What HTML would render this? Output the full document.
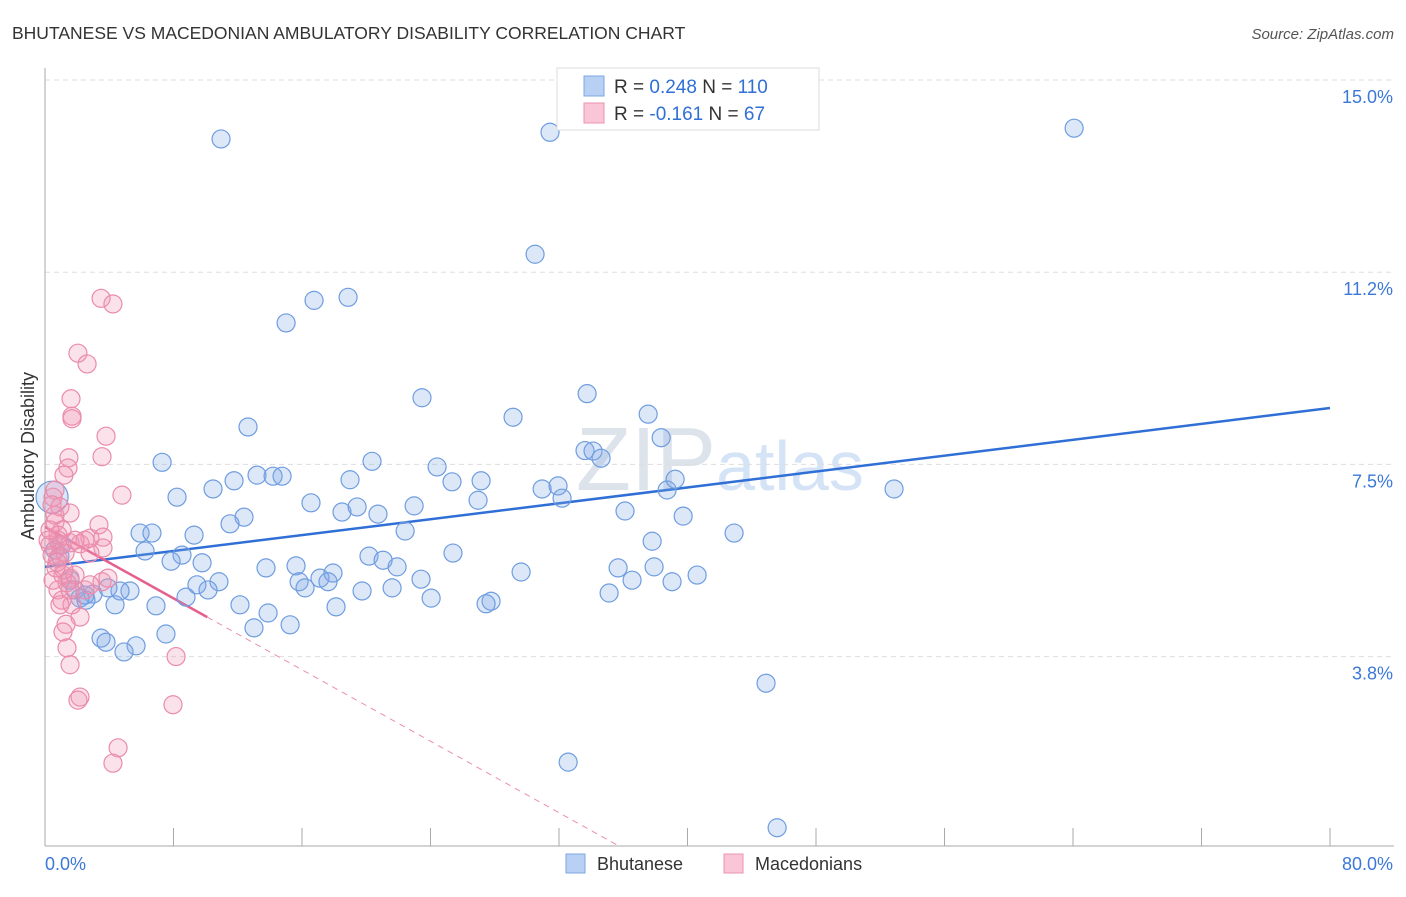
<!DOCTYPE html>
<html><head><meta charset="utf-8"><style>
body{margin:0;background:#fff;font-family:"Liberation Sans",sans-serif;}
svg text{font-family:"Liberation Sans",sans-serif;}
</style></head><body>
<svg id="chart" width="1406" height="892" viewBox="0 0 1406 892" xmlns="http://www.w3.org/2000/svg">
<text x="12" y="39" font-size="17.5" fill="#333">BHUTANESE VS MACEDONIAN AMBULATORY DISABILITY CORRELATION CHART</text>
<text x="1394" y="39" font-size="15" fill="#555" font-style="italic" text-anchor="end">Source: ZipAtlas.com</text>
<text x="720" y="490" font-size="90" fill="#e6ebf2" text-anchor="middle" font-family="Liberation Serif"><tspan fill="#dde3ea">ZIP</tspan><tspan font-family="Liberation Sans" font-size="70" fill="#d4e3f5">atlas</tspan></text>
<text transform="translate(34,456) rotate(-90)" font-size="18" fill="#333" text-anchor="middle">Ambulatory Disability</text>
<g id="grid"></g><g id="axes"></g><g id="lines"></g><g id="pts"></g>
<g>
<rect x="557" y="68" width="262" height="62" fill="#fff" stroke="#ddd"/>
<rect x="584" y="76" width="20" height="20" fill="#b8d0f3" stroke="#7ea6e3"/>
<text x="614" y="93" font-size="19" fill="#333">R = <tspan fill="#2f6fd6">0.248</tspan>   N = <tspan fill="#2f6fd6">110</tspan></text>
<rect x="584" y="103" width="20" height="20" fill="#f8c6d6" stroke="#eb93b0"/>
<text x="614" y="120" font-size="19" fill="#333">R = <tspan fill="#2f6fd6">-0.161</tspan>   N = <tspan fill="#2f6fd6">  67</tspan></text>
</g>
<g>
<rect x="566" y="854" width="19" height="19" fill="#b8d0f3" stroke="#7ea6e3"/>
<text x="597" y="870" font-size="18" fill="#333">Bhutanese</text>
<rect x="724" y="854" width="19" height="19" fill="#f8c6d6" stroke="#eb93b0"/>
<text x="755" y="870" font-size="18" fill="#333">Macedonians</text>
</g>
</svg>
<script>
const yTicks=[15,11.25,7.5,3.75];
const yTickLabels=["15.0%","11.2%","7.5%","3.8%"];
const xTicks=[0,8,16,24,32,40,48,56,64,72,80];
const xTickLabels=["0.0%","80.0%"];
const blueX=[10.96,31.44,64.07,30.51,16.75,18.87,15.01,23.47,33.75,29.14,37.55,12.64,38.36,33.62,34.12,34.62,7.29,20.36,24.41,13.2,14.2,14.76,11.77,18.99,25.34,27.15,8.22,10.46,16.56,22.98,26.96,30.95,31.94,32.19,38.73,39.23,52.86,18.49,19.43,20.73,12.39,11.52,36.11,39.73,22.42,5.92,6.66,9.28,6.23,8.53,7.85,9.78,20.17,21.05,21.92,25.4,37.8,42.9,13.76,15.63,15.82,16.19,17.12,17.93,17.62,23.41,29.64,35.68,37.92,36.55,39.04,40.6,9.46,10.83,10.15,8.78,19.74,21.61,24.04,35.12,27.77,27.46,5.29,4.67,3.92,2.99,2.55,4.36,6.91,12.14,13.89,18.12,15.26,13.01,7.53,3.49,3.8,5.67,4.92,44.89,32.57,45.58,0.93,1.56,1.87,2.18,0.44,1.06,0.62,2.49];
const blueY=[13.85,13.98,14.06,11.6,10.7,10.76,10.26,8.8,8.88,8.42,8.48,8.23,8.02,7.77,7.76,7.62,7.54,7.56,7.45,7.29,7.27,7.27,7.18,7.2,7.16,7.18,6.86,7.02,6.75,6.69,6.8,7.02,7.08,6.84,7.0,7.21,7.02,6.57,6.67,6.53,6.47,6.34,6.59,6.49,6.2,6.16,6.16,6.12,5.81,5.73,5.61,5.58,5.71,5.63,5.5,5.77,6.0,6.16,5.48,5.52,5.21,5.09,5.28,5.38,5.21,5.26,5.4,5.48,5.5,5.24,5.21,5.34,5.15,5.21,5.05,4.91,5.03,5.09,4.89,4.99,4.83,4.78,5.03,5.03,5.09,4.97,4.85,4.76,4.74,4.76,4.6,4.72,4.37,4.31,4.19,4.11,4.03,3.96,3.84,3.23,1.69,0.41,5.71,5.24,5.05,4.89,6.86,5.93,5.83,4.95];
const pinkX=[3.49,4.23,2.05,2.62,1.62,1.68,1.68,3.8,3.55,1.49,1.43,1.18,0.5,0.62,4.79,0.93,1.56,0.62,1.06,3.36,3.61,0.81,0.31,0.93,1.56,2.18,2.49,2.8,3.61,2.8,0.44,0.81,1.12,1.56,1.37,3.55,3.92,0.81,1.06,1.68,2.18,1.31,1.12,1.37,1.56,2.18,2.05,7.97,8.16,4.55,4.23,0.62,0.44,0.81,1.25,1.87,2.49,2.8,1.18,0.5,0.68,0.93,1.56,1.87,0.19,0.31,0.75];
const pinkY=[10.74,10.63,9.67,9.46,8.78,8.44,8.39,8.05,7.65,7.63,7.43,7.29,6.86,7.0,6.9,6.67,6.55,6.37,6.22,6.32,6.08,6.02,5.93,5.93,5.97,5.95,6.02,6.06,5.87,5.77,5.73,5.67,5.34,5.28,5.19,5.21,5.28,5.05,4.85,4.76,4.52,4.38,4.23,3.92,3.59,2.96,2.9,2.81,3.75,1.97,1.67,6.51,6.71,6.12,5.77,5.34,5.05,5.15,5.44,5.24,5.48,4.76,5.05,6.02,6.02,6.22,5.59];
const blueTrend=[5.5,8.6];   // y at x=0 and x=80
const pinkTrend=[6.28,4.52]; // y at x=0 and x=10.1
const pinkSolidEnd=10.1;
const X0=45,X1=1330,Y0=848.75,PPY=51.25;
const sx=v=>X0+v*(X1-X0)/80, sy=v=>Y0-v*PPY;
const NS="http://www.w3.org/2000/svg";
function mk(tag,parent,attrs){const e=document.createElementNS(NS,tag);for(const k in attrs)e.setAttribute(k,attrs[k]);document.getElementById(parent).appendChild(e);return e;}
yTicks.forEach((t,i)=>{
 const g=mk('line','grid',{x1:X0,x2:1394,y1:sy(t),y2:sy(t),stroke:'#ddd','stroke-dasharray':'5,4'});
 
 
 const l=mk('text','grid',{x:1393,y:sy(t)+23,'font-size':18,fill:'#3b78d8','text-anchor':'end'});
 l.textContent=yTickLabels[i];
 
 
});
const ax=mk('line','axes',{x1:X0,x2:X0,y1:68,y2:846,stroke:'#aaa'});


const bx=mk('line','axes',{x1:X0,x2:1394,y1:846,y2:846,stroke:'#aaa'});


xTicks.forEach(t=>{
 const tk=mk('line','axes',{x1:sx(t),x2:sx(t),y1:828,y2:846,stroke:'#aaa'});
 
 
});
const xl0=mk('text','axes',{x:45,y:870,'font-size':18,fill:'#3b78d8'});xl0.textContent=xTickLabels[0];


const xl1=mk('text','axes',{x:1393,y:870,'font-size':18,fill:'#3b78d8','text-anchor':'end'});xl1.textContent=xTickLabels[1];


blueX.forEach((x,i)=>{
 const c=mk('circle','pts',{cx:sx(x),cy:sy(blueY[i]),r:(i===106?16:9),fill:'rgba(130,170,230,0.28)',stroke:'#6f9de0','stroke-width':1.2});
 
 
});
pinkX.forEach((x,i)=>{
 const c=mk('circle','pts',{cx:sx(x),cy:sy(pinkY[i]),r:9,fill:'rgba(242,150,180,0.28)',stroke:'#ea8bab','stroke-width':1.2});
 
 
});
const bt=mk('line','lines',{x1:sx(0),y1:sy(blueTrend[0]),x2:sx(80),y2:sy(blueTrend[1]),stroke:'#2f6fd6','stroke-width':2.5});


const slope=(pinkTrend[1]-pinkTrend[0])/pinkSolidEnd;
const pt=mk('line','lines',{x1:sx(0),y1:sy(pinkTrend[0]),x2:sx(pinkSolidEnd),y2:sy(pinkTrend[1]),stroke:'#e5608c','stroke-width':2.5});


const xEnd=(0.05-pinkTrend[0])/slope;
const pd=mk('line','lines',{x1:sx(pinkSolidEnd),y1:sy(pinkTrend[1]),x2:sx(xEnd),y2:sy(0.05),stroke:'#eb8fae','stroke-width':1,'stroke-dasharray':'6,5'});


</script>
</body></html>
